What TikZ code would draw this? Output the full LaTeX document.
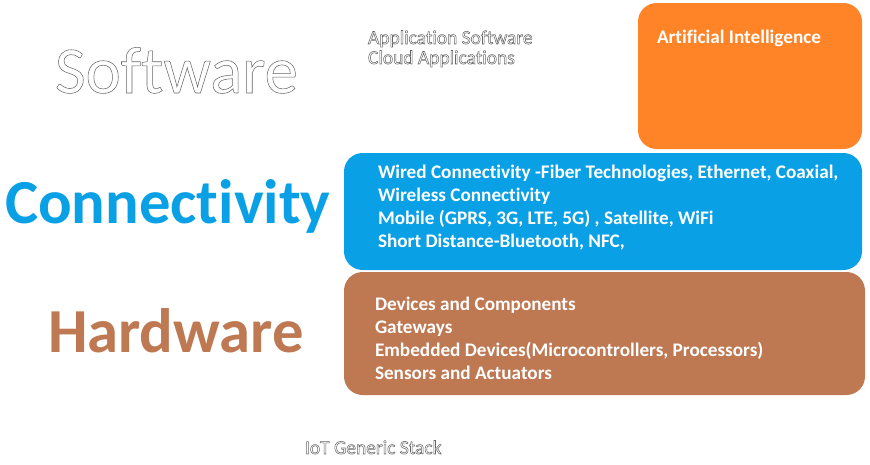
\documentclass[tikz,border=0pt]{standalone}
\usepackage{fontspec}
\setmainfont{Carlito}[RawFeature={-liga}]
\usepackage{tikz}
\usetikzlibrary{positioning}

\definecolor{aiorange}{RGB}{255,132,40}
\definecolor{conblue}{RGB}{10,160,230}
\definecolor{hwbrown}{RGB}{190,120,82}

% outlined text (stroke only)
\newcommand{\outl}[1]{\special{pdf:literal direct 1 Tr 0.4 w}#1\special{pdf:literal direct 0 Tr}}

\begin{document}
\begin{tikzpicture}[
  x=0.75pt,y=-0.75pt,
  every node/.style={inner sep=0pt,outer sep=0pt},
  layerbox/.style={rounded corners=14pt,draw=none},
  boxtext/.style={anchor=base west,align=left,text=white,font=\fontsize{14.4}{17.25}\selectfont\bfseries},
  bigword/.style={anchor=base west,font=\fontsize{47}{47}\selectfont\bfseries},
  hollow/.style={anchor=base west,align=left,text=black!60},
]
\useasboundingbox (0,0) rectangle (870,464);

% layer boxes
\fill[layerbox,aiorange] (638,3) rectangle (862,149);
\fill[layerbox,conblue] (344,153) rectangle (862,270);
\fill[layerbox,hwbrown] (344,272) rectangle (865,395);

% left titles
\node[hollow,font=\fontsize{50}{50}\selectfont] (sw) at (55,93) {\outl{Software}};
\node[bigword,text=conblue] (con) at (5,223) {Connectivity};
\node[bigword,text=hwbrown] (hw) at (48,352) {Hardware};

% software layer (base = last line)
\node[hollow,font=\fontsize{14.6}{15}\selectfont] (apps) at (368,64) {\outl{Application Software}\\\outl{Cloud Applications}};
\node[boxtext] (ai) at (657,43) {Artificial Intelligence};

% connectivity layer
\node[boxtext] (conlines) at (378,247) {Wired Connectivity -Fiber Technologies, Ethernet, Coaxial,\\
Wireless Connectivity\\
Mobile (GPRS, 3G, LTE, 5G) , Satellite, WiFi\\
Short Distance-Bluetooth, NFC,};

% hardware layer
\node[boxtext] (hwlines) at (375,379) {Devices and Components\\
Gateways\\
Embedded Devices(Microcontrollers, Processors)\\
Sensors and Actuators};

% caption
\node[hollow,font=\fontsize{14.6}{15}\selectfont] (cap) at (305,454) {\outl{IoT Generic Stack}};

\end{tikzpicture}
\end{document}
